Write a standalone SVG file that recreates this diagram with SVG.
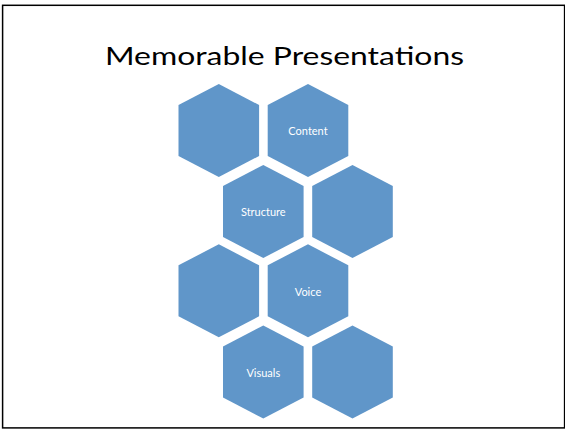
<svg xmlns="http://www.w3.org/2000/svg" xmlns:xlink="http://www.w3.org/1999/xlink" width="565" height="429" viewBox="0 0 565 429">
  <style>
    .hex { fill: #6096C9; }
    .lbl { font-family: Lato, "Open Sans", "Liberation Sans", sans-serif; font-size: 11px; fill: #FFFFFF; text-anchor: middle; }
    .title { font-family: Lato, "Open Sans", "Liberation Sans", sans-serif; font-size: 25px; fill: #000000; }
  </style>
  <defs>
    <path id="hexshape" d="M0,-46.5 L40.3,-25.5 L40.3,25.5 L0,46.5 L-40.3,25.5 L-40.3,-25.5 Z"/>
  </defs>
  <rect x="0" y="0" width="565" height="429" fill="#FFFFFF"/>
  <rect x="2.6" y="5.3" width="562" height="422.6" fill="none" stroke="#000000" stroke-width="1.5"/>
  <text class="title" x="105" y="65" textLength="359" lengthAdjust="spacingAndGlyphs">Memorable Presentations</text>
  <g id="connectors"></g>
  <g id="hex1"><use xlink:href="#hexshape" href="#hexshape" class="hex" x="218.8" y="130.5"/></g>
  <g id="hex-content"><use xlink:href="#hexshape" href="#hexshape" class="hex" x="308" y="130.5"/><text class="lbl" x="308" y="134.5">Content</text></g>
  <g id="hex-structure"><use xlink:href="#hexshape" href="#hexshape" class="hex" x="263.3" y="211.5"/><text class="lbl" x="263.3" y="215.5">Structure</text></g>
  <g id="hex4"><use xlink:href="#hexshape" href="#hexshape" class="hex" x="352.5" y="211.5"/></g>
  <g id="hex5"><use xlink:href="#hexshape" href="#hexshape" class="hex" x="218.8" y="290.8"/></g>
  <g id="hex-voice"><use xlink:href="#hexshape" href="#hexshape" class="hex" x="308" y="290.8"/><text class="lbl" x="308" y="295.5">Voice</text></g>
  <g id="hex-visuals"><use xlink:href="#hexshape" href="#hexshape" class="hex" x="263.3" y="372"/><text class="lbl" x="263.3" y="376.5">Visuals</text></g>
  <g id="hex8"><use xlink:href="#hexshape" href="#hexshape" class="hex" x="352.5" y="372"/></g>
</svg>
